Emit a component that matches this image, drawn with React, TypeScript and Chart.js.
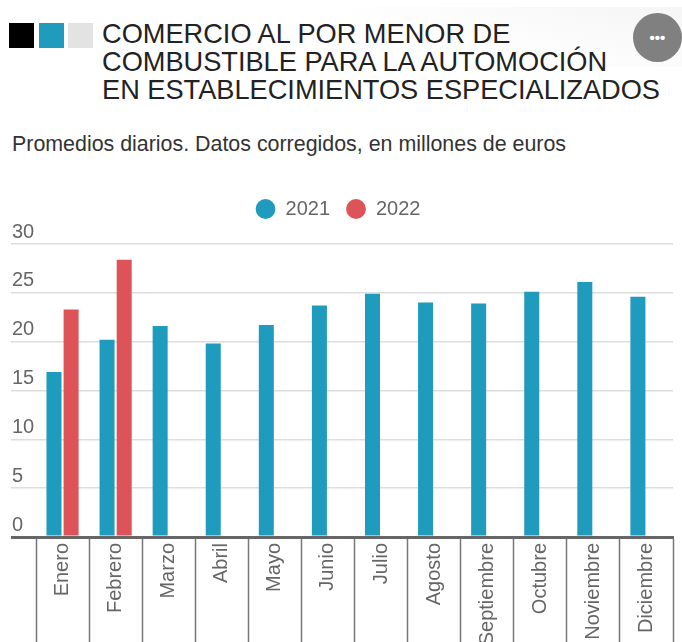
import React, { useEffect, useRef } from "react";
import { Chart, registerables } from "chart.js";

Chart.register(...registerables);

const categories = ["Enero", "Febrero", "Marzo", "Abril", "Mayo", "Junio", "Julio", "Agosto", "Septiembre", "Octubre", "Noviembre", "Diciembre"];
const values2021 = [16.9, 20.2, 21.6, 19.8, 21.7, 23.7, 24.9, 24.0, 23.9, 25.1, 26.1, 24.6];
const values2022 = [23.3, 28.4, null, null, null, null, null, null, null, null, null, null];
const yTicks = [0, 5, 10, 15, 20, 25, 30];
const FONT = '"Liberation Sans", Arial, sans-serif';

const legendGap = {
  id: "legendGap",
  beforeInit(chart: any) {
    const fit = chart.legend.fit;
    chart.legend.fit = function () {
      fit.call(this);
      this.height += 15;
    };
  },
};

export default function App() {
  const ref = useRef<HTMLCanvasElement>(null);
  useEffect(() => {
    const chart = new Chart(ref.current!, {
      type: "bar",
      plugins: [legendGap],
      data: {
        labels: categories,
        datasets: [
          { label: "2021", data: values2021, backgroundColor: "#1f9bbd", borderWidth: 0, barPercentage: 0.877, categoryPercentage: 0.645 },
          { label: "2022", data: values2022, backgroundColor: "#dd5358", borderWidth: 0, barPercentage: 0.877, categoryPercentage: 0.645 },
        ],
      },
      options: {
        animation: false,
        responsive: false,
        layout: { padding: { left: 3, right: 9, top: 0, bottom: 0 } },
        plugins: {
          tooltip: { enabled: false },
          legend: {
            position: "top",
            align: "center",
            labels: {
              usePointStyle: true,
              boxWidth: 20,
              boxHeight: 14,
              padding: 16,
              color: "#666666",
              font: { family: FONT, size: 20 },
            },
          },
        },
        scales: {
          x: {
            offset: true,
            border: { display: true, color: "#666666", width: 3 },
            grid: { display: true, drawOnChartArea: false, drawTicks: true, tickLength: 105, tickWidth: 1.5, tickColor: "#777777", offset: true },
            ticks: { autoSkip: false, minRotation: 90, maxRotation: 90, padding: -99, color: "#666666", font: { family: FONT, size: 20 } },
            afterFit: (s: any) => { s.height = 105; },
          },
          y: {
            min: 0,
            max: 30,
            afterBuildTicks: (s: any) => { s.ticks = yTicks.map((value) => ({ value })); },
            border: { display: false },
            grid: {
              color: (c: any) => (c.tick.value === 0 ? "#666666" : "#dddddd"),
              lineWidth: (c: any) => (c.tick.value === 0 ? 3 : 1.5),
              tickLength: 25,
              tickColor: (c: any) => (c.tick.value === 0 ? "#666666" : "#dddddd"),
              tickWidth: (c: any) => (c.tick.value === 0 ? 3 : 1.5),
            },
            ticks: { mirror: true, padding: -24, labelOffset: -12, color: "#666666", font: { family: FONT, size: 20 } },
            afterFit: (s: any) => { s.width = 33; },
          },
        },
      },
    } as any);
    return () => chart.destroy();
  }, []);

  return (
    <div style={{ position: "absolute", left: 0, top: 0, width: 682, height: 642, overflow: "hidden", background: "#fff", fontFamily: FONT }}>
      <div style={{ position: "absolute", left: 230, top: 7, width: 452, height: 60, background: "linear-gradient(195deg, #f5f5f5 0%, #ffffff 55%)" }} />
      <div style={{ position: "absolute", left: 9, top: 23, width: 25, height: 25, background: "#000" }} />
      <div style={{ position: "absolute", left: 39, top: 23, width: 25, height: 25, background: "#1f9bbd" }} />
      <div style={{ position: "absolute", left: 68, top: 23, width: 25, height: 25, background: "#e3e3e3" }} />
      <div style={{ position: "absolute", left: 102, top: 20, fontSize: 27.2, lineHeight: "28px", color: "#222", whiteSpace: "nowrap" }}>
        COMERCIO AL POR MENOR DE<br />COMBUSTIBLE PARA LA AUTOMOCIÓN<br />EN ESTABLECIMIENTOS ESPECIALIZADOS
      </div>
      <div style={{ position: "absolute", left: 633, top: 13, width: 49, height: 49, borderRadius: "50%", background: "#808080", color: "#fff", fontSize: 15, fontWeight: 700, textAlign: "center", lineHeight: "49px" }}>•••</div>
      <div style={{ position: "absolute", left: 12, top: 132, fontSize: 21.4, lineHeight: "24px", color: "#333", whiteSpace: "nowrap" }}>
        Promedios diarios. Datos corregidos, en millones de euros
      </div>
      <canvas ref={ref} width={682} height={459} style={{ position: "absolute", left: 0, top: 183 }} />
    </div>
  );
}
